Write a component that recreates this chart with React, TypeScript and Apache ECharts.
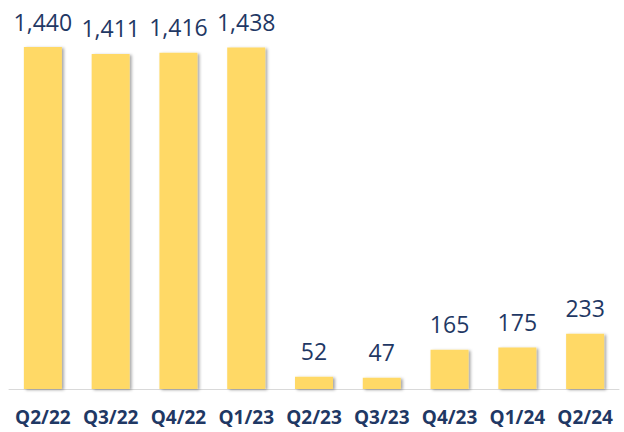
import React, { useEffect, useRef } from "react";
import * as echarts from "echarts";

const categories = ["Q2/22", "Q3/22", "Q4/22", "Q1/23", "Q2/23", "Q3/23", "Q4/23", "Q1/24", "Q2/24"];
const values = [1440, 1411, 1416, 1438, 52, 47, 165, 175, 233];

export default function App() {
  const ref = useRef<HTMLDivElement>(null);
  useEffect(() => {
    if (!ref.current) return;
    const chart = echarts.init(ref.current, undefined, { renderer: "svg" });
    chart.setOption({
      animation: false,
      grid: { left: 9, right: 5, top: 47, bottom: 43, containLabel: false },
      xAxis: {
        type: "category",
        data: categories,
        axisLine: { lineStyle: { color: "#D9D9D9", width: 1 } },
        axisTick: { show: false },
        axisLabel: {
          color: "#1F3864",
          fontWeight: "bold",
          fontSize: 19,
          fontFamily: "Open Sans",
          margin: 18,
          interval: 0,
        },
      },
      yAxis: {
        type: "value",
        min: 0,
        max: 1440,
        show: false,
        splitLine: { show: false },
      },
      series: [
        {
          type: "bar",
          data: values,
          barWidth: 38,
          itemStyle: {
            color: "#FFD966",
            shadowColor: "rgba(0,0,0,0.35)",
            shadowBlur: 3,
            shadowOffsetX: 2,
            shadowOffsetY: 1,
          },
          label: {
            show: true,
            position: "top",
            distance: 14,
            color: "#1F3864",
            fontSize: 23,
            fontFamily: "Open Sans",
            formatter: (p: any) => p.value.toLocaleString("en-US"),
          },
        },
      ],
    });
    return () => chart.dispose();
  }, []);
  return <div ref={ref} style={{ width: 624, height: 432, position: "absolute", left: 0, top: 0 }} />;
}
